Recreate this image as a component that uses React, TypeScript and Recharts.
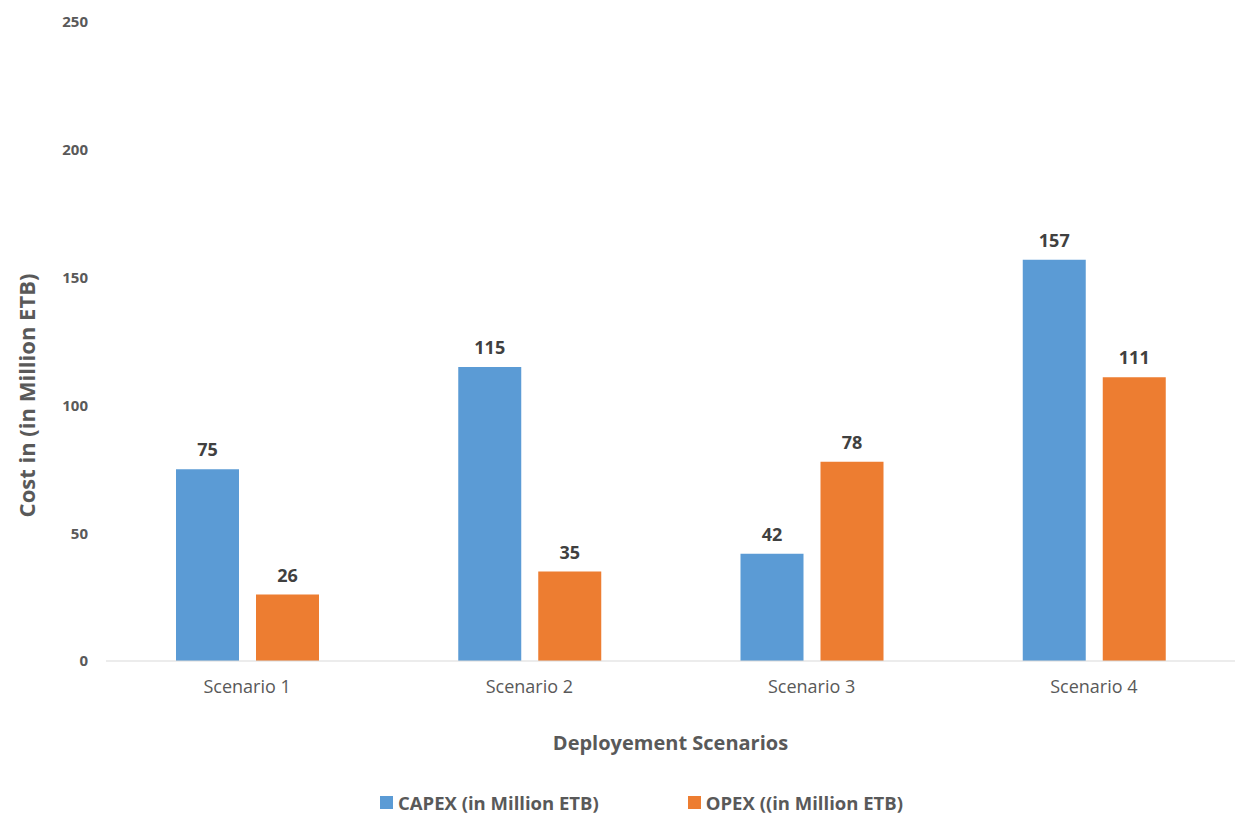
import React from "react";
import { BarChart, Bar, XAxis, YAxis, Legend, LabelList, Label } from "recharts";

const scenarios = ["Scenario 1", "Scenario 2", "Scenario 3", "Scenario 4"];
const capex = [75, 115, 42, 157];
const opex = [26, 35, 78, 111];
const yTicks = [0, 50, 100, 150, 200, 250];

const CAPEX_NAME = "CAPEX (in Million ETB)";
const OPEX_NAME = "OPEX ((in Million ETB)";
const BLUE = "#5B9BD5";
const ORANGE = "#ED7D31";
const FONT = "'Open Sans', sans-serif";

const data = scenarios.map((name, i) => ({ name, capex: capex[i], opex: opex[i] }));

// legend as two coloured squares with bold grey captions
function LegendContent() {
  const items = [
    { label: CAPEX_NAME, color: BLUE },
    { label: OPEX_NAME, color: ORANGE },
  ];
  return (
    <div
      style={{
        height: 40,
        display: "flex",
        justifyContent: "center",
        alignItems: "center",
        paddingTop: 16,
        paddingLeft: 48,
        boxSizing: "border-box",
        gap: 89,
        fontFamily: FONT,
        fontWeight: 700,
        fontSize: 18.5,
        color: "#595959",
      }}
    >
      {items.map((it) => (
        <div key={it.label} style={{ display: "flex", alignItems: "center" }}>
          <span style={{ width: 13, height: 13, background: it.color, marginRight: 5, display: "inline-block" }} />
          {it.label}
        </div>
      ))}
    </div>
  );
}

function YTitle(props: any) {
  const vb = props.viewBox;
  const cx = 26;
  const cy = vb.y + vb.height / 2 + 54;
  return (
    <text
      x={cx}
      y={cy}
      transform={`rotate(-90, ${cx}, ${cy})`}
      textAnchor="middle"
      dominantBaseline="central"
      fill="#595959"
      fontFamily={FONT}
      fontWeight={700}
      fontSize={22}
    >
      Cost in (in Million ETB)
    </text>
  );
}

export default function App() {
  return (
    <div style={{ position: "absolute", left: 0, top: 0, background: "#fff" }}>
      <BarChart
        width={1241}
        height={814}
        data={data}
        margin={{ top: 22, right: 6, bottom: 0, left: 0 }}
        barSize={63}
        barGap={17}
      >
        <XAxis
          dataKey="name"
          height={113}
          tickLine={false}
          tickSize={0}
          tickMargin={19}
          axisLine={{ stroke: "#D9D9D9" }}
          tick={{ fill: "#595959", fontSize: 18, fontFamily: FONT }}
        >
          <Label
            value="Deployement Scenarios"
            position="insideBottom"
            offset={24}
            fill="#595959"
            fontFamily={FONT}
            fontWeight={700}
            fontSize={20}
          />
        </XAxis>
        <YAxis
          width={106}
          domain={[0, 250]}
          ticks={yTicks}
          axisLine={false}
          tickLine={false}
          tickSize={0}
          tickMargin={18}
          tick={{ fill: "#595959", fontSize: 15, fontWeight: 700, fontFamily: FONT }}
        >
          <Label content={YTitle} />
        </YAxis>
        <Legend verticalAlign="bottom" height={40} content={LegendContent} />
        <Bar dataKey="capex" name={CAPEX_NAME} fill={BLUE} isAnimationActive={false}>
          <LabelList
            dataKey="capex"
            position="top"
            offset={13}
            fill="#404040"
            fontFamily={FONT}
            fontWeight={700}
            fontSize={18}
          />
        </Bar>
        <Bar dataKey="opex" name={OPEX_NAME} fill={ORANGE} isAnimationActive={false}>
          <LabelList
            dataKey="opex"
            position="top"
            offset={13}
            fill="#404040"
            fontFamily={FONT}
            fontWeight={700}
            fontSize={18}
          />
        </Bar>
      </BarChart>
    </div>
  );
}
